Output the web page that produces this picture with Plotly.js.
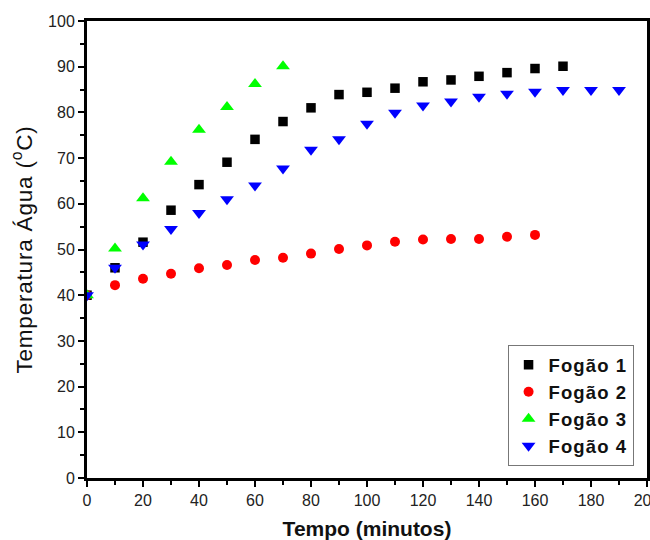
<!DOCTYPE html>
<html>
<head>
<meta charset="utf-8">
<script src="https://cdn.plot.ly/plotly-3.0.1.min.js"></script>
<style>
html,body{margin:0;padding:0;background:#fff;}
#chart{width:650px;height:540px;}
.legendtext{letter-spacing:1.1px;}
.ytitle{letter-spacing:0.8px;}
</style>
</head>
<body>
<div id="chart"></div>
<script>
const tempo1 = [0,10,20,30,40,50,60,70,80,90,100,110,120,130,140,150,160,170];
const fogao1 = [40,46,51.6,58.6,64.2,69.1,74.1,78.0,81.0,83.9,84.4,85.3,86.7,87.1,87.9,88.7,89.6,90.1];
const tempo2 = [0,10,20,30,40,50,60,70,80,90,100,110,120,130,140,150,160];
const fogao2 = [40,42.2,43.6,44.7,45.9,46.6,47.7,48.2,49.1,50.1,50.9,51.7,52.2,52.3,52.3,52.8,53.2];
const tempo3 = [0,10,20,30,40,50,60,70];
const fogao3 = [40,50.2,61.2,69.2,76.2,81.2,86.2,90.1];
const tempo4 = [0,10,20,30,40,50,60,70,80,90,100,110,120,130,140,150,160,170,180,190];
const fogao4 = [40,46,51.1,54.5,58.0,61.0,64.0,67.7,71.8,74.1,77.5,79.9,81.5,82.4,83.4,84.1,84.5,84.9,84.9,84.9];
const nomes = ['Fogão 1','Fogão 2','Fogão 3','Fogão 4'];

const font = '"Liberation Sans", Arial, sans-serif';
const traces = [
  {x: tempo1, y: fogao1, name: nomes[0], mode: 'markers', type: 'scatter',
   marker: {symbol: 'square', size: 9.5, color: '#000000'}},
  {x: tempo2, y: fogao2, name: nomes[1], mode: 'markers', type: 'scatter',
   marker: {symbol: 'circle', size: 10, color: '#ff0000'}},
  {x: tempo3, y: fogao3, name: nomes[2], mode: 'markers', type: 'scatter',
   marker: {symbol: 'triangle-up', size: 12, color: '#00ff00'}},
  {x: tempo4, y: fogao4, name: nomes[3], mode: 'markers', type: 'scatter',
   marker: {symbol: 'triangle-down', size: 12, color: '#0000ff'}}
];

const axisCommon = {
  showgrid: false, zeroline: false,
  showline: true, linecolor: '#000', linewidth: 3, mirror: true,
  ticks: 'outside', ticklen: 6, tickwidth: 2, tickcolor: '#000',
  tickfont: {family: font, size: 16, color: '#222'},
  ticklabeloverflow: 'allow'
};

const layout = {
  width: 650, height: 540,
  margin: {l: 87, r: 3, t: 21, b: 62},
  paper_bgcolor: '#fff', plot_bgcolor: '#fff',
  showlegend: true,
  xaxis: Object.assign({}, axisCommon, {
    range: [0, 200], dtick: 20, tick0: 0,
    minor: {dtick: 10, ticks: 'outside', ticklen: 4, tickwidth: 2, tickcolor: '#000'},
    title: {text: 'Tempo (minutos)', font: {family: font, size: 21, color: '#111', weight: 'bold'}, standoff: 19}
  }),
  yaxis: Object.assign({}, axisCommon, {
    range: [0, 100], dtick: 10, tick0: 0,
    minor: {dtick: 5, ticks: 'outside', ticklen: 4, tickwidth: 2, tickcolor: '#000'},
    title: {text: 'Temperatura Água (<sup>o</sup>C)', font: {family: font, size: 22.5, color: '#111'}, standoff: 10}
  }),
  legend: {
    x: 0.976, xanchor: 'right', y: 0.026, yanchor: 'bottom',
    bgcolor: '#fff', bordercolor: '#777', borderwidth: 1,
    font: {family: font, size: 18.5, color: '#111', weight: 'bold'},
    tracegroupgap: 0
  }
};

Plotly.newPlot('chart', traces, layout, {displayModeBar: false, staticPlot: true});
</script>
</body>
</html>
